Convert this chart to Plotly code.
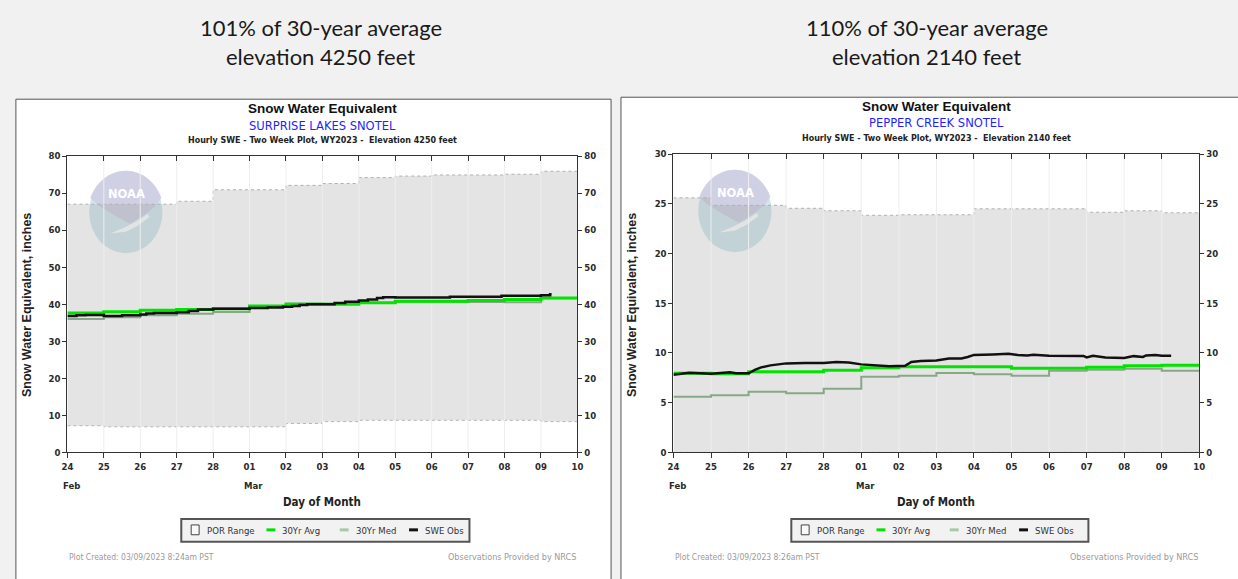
import math
import plotly.graph_objects as go

W, H = 1238, 579

# ---------------- data ----------------
days = ["2023-02-24", "2023-02-25", "2023-02-26", "2023-02-27", "2023-02-28",
        "2023-03-01", "2023-03-02", "2023-03-03", "2023-03-04", "2023-03-05",
        "2023-03-06", "2023-03-07", "2023-03-08", "2023-03-09", "2023-03-10"]
day_labels = ["24", "25", "26", "27", "28", "01", "02", "03", "04", "05",
              "06", "07", "08", "09", "10"]

# Surprise Lakes SNOTEL (left)
sl_por_max = [67.0, 67.0, 67.0, 67.8, 70.9, 70.9, 72.1, 72.6, 74.2, 74.6,
              74.9, 74.9, 75.1, 75.9, 75.9]
sl_por_min = [7.2, 6.9, 6.9, 6.9, 6.9, 6.9, 7.8, 8.3, 8.65, 8.65,
              8.65, 8.65, 8.65, 8.3, 8.3]
sl_avg = [37.6, 38.0, 38.4, 38.6, 38.75, 39.5, 40.0, 40.0, 40.4, 40.8,
          40.8, 41.0, 41.3, 41.7, 41.7]
sl_med = [36.0, 36.5, 37.0, 37.4, 37.9, 39.4, 40.2, 40.1, 40.3, 40.6,
          40.6, 40.6, 40.5, 41.6, 41.6]
sl_obs_t = ["2023-02-24 00:00", "2023-02-24 06:00", "2023-02-24 12:00", "2023-02-25 00:00",
            "2023-02-25 12:00", "2023-02-26 00:00", "2023-02-26 04:00", "2023-02-26 09:00",
            "2023-02-27 00:00", "2023-02-27 08:00", "2023-02-27 14:00", "2023-02-28 00:00",
            "2023-03-01 00:00", "2023-03-01 12:00", "2023-03-01 22:00", "2023-03-02 04:00",
            "2023-03-02 09:00", "2023-03-02 14:00", "2023-03-03 00:00", "2023-03-03 08:00",
            "2023-03-03 15:00", "2023-03-04 00:00", "2023-03-04 06:00", "2023-03-04 12:00",
            "2023-03-04 16:00", "2023-03-05 00:00", "2023-03-06 00:00", "2023-03-06 12:00",
            "2023-03-07 00:00", "2023-03-07 22:00", "2023-03-08 12:00", "2023-03-09 00:00",
            "2023-03-09 06:00", "2023-03-09 07:00"]
sl_obs = [36.8, 37.0, 37.1, 36.8, 37.0, 37.2, 37.5, 37.6, 37.8, 38.2, 38.6, 38.8,
          39.0, 39.1, 39.3, 39.5, 39.8, 40.0, 40.0, 40.3, 40.7, 41.0, 41.3, 41.7,
          41.9, 41.8, 41.8, 42.0, 42.0, 42.3, 42.3, 42.4, 42.7, 42.7]

# Pepper Creek SNOTEL (right)
pc_por_max = [25.6, 24.85, 24.85, 24.55, 24.3, 23.85, 23.9, 23.9, 24.5, 24.5,
              24.5, 24.15, 24.3, 24.1, 24.1]
pc_por_min = [0, 0, 0, 0, 0, 0, 0, 0, 0, 0, 0, 0, 0, 0, 0]
pc_avg = [7.95, 7.9, 8.1, 8.1, 8.25, 8.5, 8.6, 8.6, 8.6, 8.47, 8.47, 8.57, 8.7, 8.75, 8.75]
pc_med = [5.6, 5.75, 6.1, 5.95, 6.4, 7.6, 7.7, 7.98, 7.85, 7.7, 8.2, 8.3, 8.4, 8.2, 8.2]
pc_obs_t = ["2023-02-24 00:00", "2023-02-24 06:00", "2023-02-24 10:00", "2023-02-25 00:00",
            "2023-02-25 12:00", "2023-02-25 16:00", "2023-02-26 00:00", "2023-02-26 04:00",
            "2023-02-26 08:00", "2023-02-26 14:00", "2023-02-27 00:00", "2023-02-27 12:00",
            "2023-02-28 00:00", "2023-02-28 08:00", "2023-02-28 16:00", "2023-03-01 00:00",
            "2023-03-01 08:00", "2023-03-01 18:00", "2023-03-02 04:00", "2023-03-02 08:00",
            "2023-03-02 14:00", "2023-03-03 00:00", "2023-03-03 08:00", "2023-03-03 16:00",
            "2023-03-03 20:00", "2023-03-04 00:00", "2023-03-04 12:00", "2023-03-04 22:00",
            "2023-03-05 04:00", "2023-03-05 10:00", "2023-03-05 14:00", "2023-03-06 00:00",
            "2023-03-06 22:00", "2023-03-07 00:00", "2023-03-07 04:00", "2023-03-07 12:00",
            "2023-03-08 00:00", "2023-03-08 06:00", "2023-03-08 12:00", "2023-03-08 14:00",
            "2023-03-08 20:00", "2023-03-09 00:00", "2023-03-09 06:00"]
pc_obs = [7.8, 7.9, 8.0, 7.9, 8.05, 7.95, 7.95, 8.3, 8.55, 8.75, 8.95, 9.0, 9.0, 9.1,
          9.05, 8.85, 8.75, 8.65, 8.7, 9.1, 9.2, 9.25, 9.45, 9.45, 9.6, 9.8, 9.85, 9.92,
          9.8, 9.75, 9.82, 9.72, 9.7, 9.55, 9.72, 9.55, 9.5, 9.68, 9.6, 9.75, 9.8, 9.72, 9.72]

charts = [
    dict(station="SURPRISE LAKES SNOTEL", elev="4250", pct="101%", created="03/09/2023 8:24am PST",
         por_max=sl_por_max, por_min=sl_por_min, avg=sl_avg, med=sl_med,
         obs_t=sl_obs_t, obs=sl_obs, obs_shape="hv", ymax=80, dtick=10,
         plot=(62, 577, 153, 455), panel=(10, 611, 95), title_y=(104, 122, 137),
         legend=(177, 468), ytitle=(21, 305), logo=(121, 210), header_x=318),
    dict(station="PEPPER CREEK SNOTEL", elev="2140", pct="110%", created="03/09/2023 8:26am PST",
         por_max=pc_por_max, por_min=pc_por_min, avg=pc_avg, med=pc_med,
         obs_t=pc_obs_t, obs=pc_obs, obs_shape="linear", ymax=30, dtick=5,
         plot=(674, 1205, 151, 455), panel=(621, 1250, 93), title_y=(102, 119, 135),
         legend=(793, 1093), ytitle=(632, 305), logo=(736, 209), header_x=930),
]

NARROW = "Liberation Sans Narrow, Arial Narrow, DejaVu Sans Condensed, Liberation Sans, sans-serif"
SANS = "Liberation Sans, Arial, sans-serif"


def X(p):
    return p / W


def Y(p):
    return 1 - p / H


def path_from(points, close=True):
    s = "M " + " L ".join(f"{X(a):.5f},{Y(b):.5f}" for a, b in points)
    return s + (" Z" if close else "")


fig = go.Figure()
shapes = []
annotations = []
layout_axes = {}

TICK_FONT = dict(family=NARROW, size=9.5, color="#2a2a2a", weight="bold")
AXC = "#333333"

for i, c in enumerate(charts):
    xa = "x" if i == 0 else f"x{2 * i + 1}"
    ya = "y" if i == 0 else f"y{2 * i + 1}"
    xt = f"x{2 * i + 2}"
    yr = f"y{2 * i + 2}"
    xk = "xaxis" if i == 0 else f"xaxis{2 * i + 1}"
    yk = "yaxis" if i == 0 else f"yaxis{2 * i + 1}"
    xtk = f"xaxis{2 * i + 2}"
    yrk = f"yaxis{2 * i + 2}"
    x0, x1, y0, y1 = c["plot"]
    dom_x = [X(x0), X(x1)]
    dom_y = [Y(y1), Y(y0)]

    # POR range
    fig.add_trace(go.Scatter(x=days, y=c["por_min"], mode="lines", line_shape="hv",
                             line=dict(color="#b5b5b5", width=1, dash="dot"),
                             xaxis=xa, yaxis=ya, showlegend=False, hoverinfo="skip"))
    fig.add_trace(go.Scatter(x=days, y=c["por_max"], mode="lines", line_shape="hv",
                             line=dict(color="#b0b0b0", width=1, dash="dot"),
                             fill="tonexty", fillcolor="rgba(150,150,150,0.26)",
                             xaxis=xa, yaxis=ya, showlegend=False, hoverinfo="skip"))
    # vertical grid lines at each day
    gx, gy = [], []
    for d in days[1:-1]:
        gx += [d, d, None]
        gy += [0, c["ymax"], None]
    fig.add_trace(go.Scatter(x=gx, y=gy, mode="lines", line=dict(color="#eeeeee", width=1),
                             xaxis=xa, yaxis=ya, showlegend=False, hoverinfo="skip"))
    # median, average, observed
    fig.add_trace(go.Scatter(x=days, y=c["med"], mode="lines", line_shape="hv",
                             line=dict(color="#86a886", width=2),
                             xaxis=xa, yaxis=ya, showlegend=False, hoverinfo="skip"))
    fig.add_trace(go.Scatter(x=days, y=c["avg"], mode="lines", line_shape="hv",
                             line=dict(color="#00e400", width=3),
                             xaxis=xa, yaxis=ya, showlegend=False, hoverinfo="skip"))
    fig.add_trace(go.Scatter(x=c["obs_t"], y=c["obs"], mode="lines", line_shape=c["obs_shape"],
                             line=dict(color="#111111", width=2.5),
                             xaxis=xa, yaxis=ya, showlegend=False, hoverinfo="skip"))
    # dummy trace for overlay axes
    fig.add_trace(go.Scatter(x=[days[0]], y=[0], mode="none", xaxis=xt, yaxis=yr,
                             showlegend=False, hoverinfo="skip"))

    xrange = [days[0], days[-1]]
    layout_axes[xk] = dict(domain=dom_x, anchor=ya, range=xrange, type="date",
                           tickvals=days, ticktext=day_labels, ticks="outside", ticklen=5,
                           tickcolor=AXC, showline=True, linecolor=AXC, linewidth=1,
                           showgrid=False, zeroline=False, tickfont=TICK_FONT, fixedrange=True)
    layout_axes[yk] = dict(domain=dom_y, anchor=xa, range=[0, c["ymax"]], dtick=c["dtick"],
                           tick0=0, ticks="outside", ticklen=4, tickcolor=AXC,
                           showline=True, linecolor=AXC, linewidth=1, showgrid=False,
                           zeroline=False, tickfont=TICK_FONT, fixedrange=True)
    layout_axes[xtk] = dict(overlaying=xa, side="top", anchor=yr, range=xrange, type="date",
                            tickvals=days, ticks="inside", ticklen=5, tickcolor=AXC,
                            showticklabels=False, showline=True, linecolor=AXC, linewidth=1,
                            showgrid=False, zeroline=False, fixedrange=True)
    layout_axes[yrk] = dict(overlaying=ya, side="right", anchor=xt, range=[0, c["ymax"]],
                            dtick=c["dtick"], tick0=0, ticks="outside", ticklen=4,
                            tickcolor=AXC, showline=True, linecolor=AXC, linewidth=1,
                            showgrid=False, zeroline=False, tickfont=TICK_FONT, fixedrange=True)

    # panel box
    px0, px1, py0 = c["panel"]
    shapes.append(dict(type="rect", xref="paper", yref="paper", x0=X(px0), x1=X(px1),
                       y0=Y(H + 10), y1=Y(py0), fillcolor="white",
                       line=dict(color="#555555", width=1), layer="below"))

    # NOAA logo watermark
    cx, cy = c["logo"]
    rx, ry = 37, 42
    shapes.append(dict(type="circle", xref="paper", yref="paper", x0=X(cx - rx), x1=X(cx + rx),
                       y0=Y(cy + ry), y1=Y(cy - ry), fillcolor="rgba(198,225,234,0.8)",
                       line=dict(width=0), layer="below"))
    cap = []
    for k in range(0, 27):
        th = math.radians(160 - k * (140 / 26))
        cap.append((cx + rx * 1.03 * math.cos(th), cy - ry * math.sin(th)))
    # lower V boundary of cap
    cap += [(cx + 30, cy - 6), (cx + 20, cy + 2), (cx + 4, cy + 12), (cx - 12, cy + 3),
            (cx - 28, cy - 7)]
    shapes.append(dict(type="path", xref="paper", yref="paper", path=path_from(cap),
                       fillcolor="rgba(206,206,226,0.92)", line=dict(width=0), layer="below"))
    gull = [(cx - 16, cy + 22), (cx - 2, cy + 16), (cx + 10, cy + 10), (cx + 22, cy + 2),
            (cx + 24, cy + 5), (cx + 12, cy + 14), (cx, cy + 20)]
    shapes.append(dict(type="path", xref="paper", yref="paper", path=path_from(gull),
                       fillcolor="rgba(255,255,255,0.95)", line=dict(width=0), layer="below"))
    annotations.append(dict(x=X(cx + 1), y=Y(cy - 18), xref="paper", yref="paper",
                            text="NOAA", showarrow=False, xanchor="center", yanchor="middle",
                            font=dict(family="DejaVu Sans", size=11.5, color="white",
                                      weight="bold")))

    cxp = (x0 + x1) / 2
    hx = c["header_x"]
    # header
    annotations.append(dict(x=X(hx), y=Y(22), xref="paper", yref="paper",
                            text=f"{c['pct']} of 30-year average", showarrow=False,
                            xanchor="center", yanchor="middle",
                            font=dict(family="Lato", size=22, color="#1a1a1a")))
    annotations.append(dict(x=X(hx), y=Y(51), xref="paper", yref="paper",
                            text=f"elevation {c['elev']} feet", showarrow=False,
                            xanchor="center", yanchor="middle",
                            font=dict(family="Lato", size=22, color="#1a1a1a")))
    # chart titles
    t1, t2, t3 = c["title_y"]
    annotations.append(dict(x=X(cxp), y=Y(t1), xref="paper", yref="paper",
                            text="Snow Water Equivalent", showarrow=False, xanchor="center",
                            yanchor="middle",
                            font=dict(family=SANS, size=13.5, color="#111111", weight="bold")))
    annotations.append(dict(x=X(cxp), y=Y(t2), xref="paper", yref="paper",
                            text=c["station"], showarrow=False, xanchor="center",
                            yanchor="middle",
                            font=dict(family=NARROW, size=12.8, color="#1f1fff")))
    annotations.append(dict(x=X(cxp), y=Y(t3), xref="paper", yref="paper",
                            text=f"Hourly SWE - Two Week Plot, WY2023 -  Elevation {c['elev']} feet",
                            showarrow=False, xanchor="center", yanchor="middle",
                            font=dict(family=NARROW, size=8.9, color="#222222", weight="bold")))
    # y axis title
    yx, yy = c["ytitle"]
    annotations.append(dict(x=X(yx), y=Y(yy), xref="paper", yref="paper",
                            text="Snow Water Equivalent, inches", showarrow=False,
                            textangle=-90, xanchor="center", yanchor="middle",
                            font=dict(family=SANS, size=12.5, color="#222222", weight="bold")))
    # month labels
    for d, m in ((days[0], "Feb"), (days[5], "Mar")):
        annotations.append(dict(x=d, y=Y(489), xref=xa, yref="paper", text=m,
                                showarrow=False, xanchor="center", yanchor="middle", xshift=4,
                                font=dict(family=NARROW, size=9.5, color="#2a2a2a",
                                          weight="bold")))
    annotations.append(dict(x=X(cxp), y=Y(506), xref="paper", yref="paper",
                            text="Day of Month", showarrow=False, xanchor="center",
                            yanchor="middle",
                            font=dict(family=NARROW, size=11.5, color="#222222", weight="bold")))
    # legend box
    lx0, lx1 = c["legend"]
    shapes.append(dict(type="rect", xref="paper", yref="paper", x0=X(lx0), x1=X(lx1),
                       y0=Y(546), y1=Y(523), fillcolor="#f2f2f2",
                       line=dict(color="#555555", width=2)))
    bx = lx0 + 10
    shapes.append(dict(type="rect", xref="paper", yref="paper", x0=X(bx), x1=X(bx + 8),
                       y0=Y(539), y1=Y(529), fillcolor="#f8f8f8",
                       line=dict(color="#444444", width=1)))
    items = [("POR Range", None, 0), ("30Yr Avg", "#00e400", 76),
             ("30Yr Med", "#a8c8a8", 150), ("SWE Obs", "#111111", 220)]
    for label, col, off in items:
        if col is not None:
            shapes.append(dict(type="line", xref="paper", yref="paper",
                               x0=X(bx + off), x1=X(bx + off + 9), y0=Y(534), y1=Y(534),
                               line=dict(color=col, width=3)))
        annotations.append(dict(x=X(bx + off + 14), y=Y(534.5), xref="paper", yref="paper",
                                text=label, showarrow=False, xanchor="left", yanchor="middle",
                                font=dict(family=NARROW, size=9.5, color="#333333")))
    # footer
    annotations.append(dict(x=X(x0), y=Y(562), xref="paper", yref="paper",
                            text=f"Plot Created: {c['created']}", showarrow=False,
                            xanchor="left", yanchor="middle",
                            font=dict(family=NARROW, size=8.5, color="#9a9a9a")))
    annotations.append(dict(x=X(x1 + 1), y=Y(562), xref="paper", yref="paper",
                            text="Observations Provided by NRCS", showarrow=False,
                            xanchor="right", yanchor="middle",
                            font=dict(family=NARROW, size=9, color="#9a9a9a")))

fig.update_layout(
    width=W, height=H, margin=dict(l=0, r=0, t=0, b=0),
    paper_bgcolor="#f1f1f1", plot_bgcolor="white",
    showlegend=False, shapes=shapes, annotations=annotations,
    **layout_axes,
)

fig.write_html("out.html", config={"displayModeBar": False},
               post_script="document.body.style.margin='0';"
                           "document.body.style.overflow='hidden';")
